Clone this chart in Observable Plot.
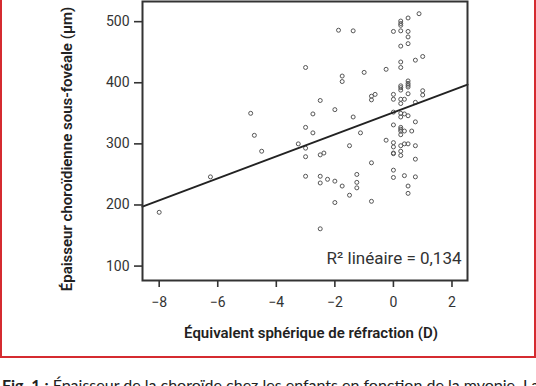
<!DOCTYPE html>
<html><head><meta charset="utf-8">
<script src="https://cdn.jsdelivr.net/npm/d3@7"></script>
<script src="https://cdn.jsdelivr.net/npm/@observablehq/plot@0.6"></script>
<style>
html,body{margin:0;padding:0;background:#fff;width:536px;height:386px;overflow:hidden;position:relative;}
#box{position:absolute;left:0;top:-3px;width:536px;height:361px;border:2px solid #d52b30;box-sizing:border-box;}
#chart{position:absolute;left:0;top:0;}
#chart svg{overflow:visible;}
#chart svg g[aria-label$="tick"] path{stroke-width:1.6;}
#caption{position:absolute;left:2px;top:375px;white-space:nowrap;font-family:Lato;font-size:16px;color:#222;}
</style></head>
<body>
<div id="box"><div id="chart"></div></div>
<div id="caption"></div>
<script>
// Data
const refraction = [0.875,0.5,0.25,0.25,0.25,-1.875,-1.375,0,0.25,0.5,0.5,0.5,0.25,1,0.75,0.25,0.25,-3,-1.75,-1.75,-1,-0.25,0.5,0.5,0.5,0.5,0.25,0.25,0.25,0,0,1,1,0.5,-0.75,-0.75,-0.625,0.25,0.375,0.25,0.75,-2.5,-2,-4.875,-2.75,-1.375,-4.75,-4.5,-3.25,-6.25,-8,0,0.25,0.375,0.5,0.25,0.75,-3,-2.75,-1.125,0,0.25,0.25,0.25,0.375,0.625,0.25,-0.25,0,0,0.25,0.375,0.5,0.75,-3,-1.5,-3,-2.5,-2.375,0,0,0.25,0.25,0.75,-0.75,-3,-2.5,-2.5,-2.25,-2,-1.75,-1.25,-1.25,-1.25,-1.5,-2,-0.75,0,0,0.375,0.75,0.5,0.5,-2.5];
const thickness = [513,506,501,497,494,486,485,484,485,484,475,464,460,443,437,434,425,425,411,402,417,422,403,399,396,393,395,392,388,381,373,387,380,382,378,372,381,373,373,366,368,371,356,350,349,344,314,288,300,246,188,352,350,349,346,344,336,327,318,318,331,327,324,321,321,321,315,306,302,295,297,300,300,297,293,297,279,282,285,285,284,288,281,275,269,247,247,236,242,239,231,250,237,228,216,204,206,257,245,248,246,231,219,161];
const xTicks = [-8,-6,-4,-2,0,2];
const yTicks = [100,200,300,400,500];
const xDomain = [-8.57, 2.53];
const yDomain = [76.4, 533];
const fitIntercept = 351.5;
const fitSlope = 18.0;
const xLabel = "Équivalent sphérique de réfraction (D)";
const yLabel = "Épaisseur choroïdienne sous-fovéale (µm)";
const r2Label = "R² linéaire = 0,134";
const captionBold = "Fig. 1 :";
const captionText = " Épaisseur de la choroïde chez les enfants en fonction de la myopie. La";

const points = refraction.map((d, i) => ({x: d, y: thickness[i]}));
const fitLine = xDomain.map(x => ({x, y: fitIntercept + fitSlope * x}));
const fmt = d => d < 0 ? "\u2212" + Math.abs(d) : String(d);

const chart = Plot.plot({
  width: 532,
  height: 350,
  marginLeft: 140,
  marginRight: 67,
  marginTop: 2,
  marginBottom: 69,
  style: {fontFamily: "Roboto", fontSize: "14px", color: "#333", background: "white", overflow: "visible"},
  x: {domain: xDomain, ticks: xTicks, tickFormat: fmt, tickSize: 7, tickPadding: 10, label: null},
  y: {domain: yDomain, ticks: yTicks, tickSize: 8, tickPadding: 5, label: null},
  marks: [
    Plot.dot(points, {x: "x", y: "y", r: 2, stroke: "#555", strokeWidth: 1, fill: "none"}),
    Plot.line(fitLine, {x: "x", y: "y", stroke: "#222", strokeWidth: 2}),
    Plot.frame({stroke: "#333", strokeWidth: 2}),
    Plot.text([r2Label], {frameAnchor: "bottom-right", text: d => d, textAnchor: "end", lineAnchor: "middle", dx: -6, dy: -22, fontSize: 17, fill: "#333"}),
    Plot.text([xLabel], {frameAnchor: "bottom", text: d => d, textAnchor: "middle", lineAnchor: "middle", dx: 6, dy: 53, fontSize: 15, fontWeight: 600, fill: "#222"}),
    Plot.text([yLabel], {frameAnchor: "left", text: d => d, textAnchor: "middle", rotate: -90, lineAnchor: "middle", dx: -75, dy: 8, fontSize: 15, fontWeight: 600, fill: "#222"})
  ]
});
document.getElementById("chart").appendChild(chart);
const cap = document.getElementById("caption");
const b = document.createElement("b");
b.textContent = captionBold;
cap.appendChild(b);
cap.appendChild(document.createTextNode(captionText));
</script>
</body></html>
